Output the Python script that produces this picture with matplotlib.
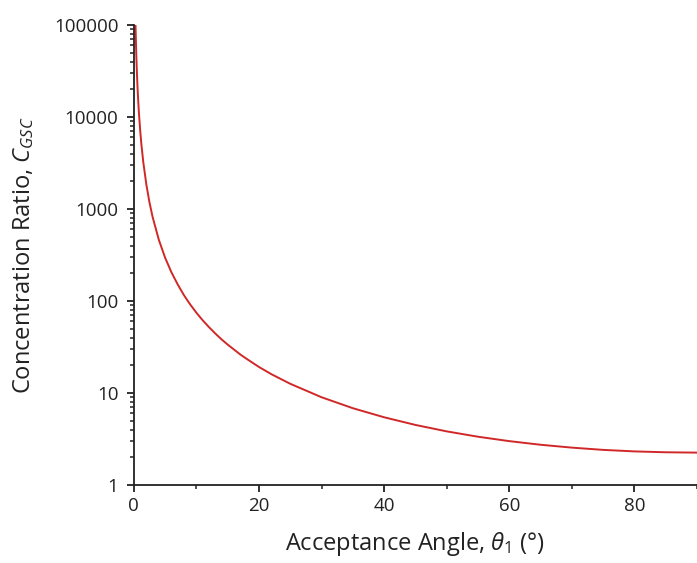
import matplotlib
matplotlib.use('Agg')
import matplotlib.pyplot as plt
from matplotlib.ticker import MultipleLocator, LogLocator, FixedFormatter, NullFormatter

# Werte
winkel = [0.27, 0.3, 0.4, 0.5, 0.6, 0.7, 0.8, 1, 1.2, 1.5, 2, 2.5, 3, 4, 5, 6, 7, 8, 9,
          10, 11, 12, 13, 14, 15, 17, 18, 20, 22, 25, 30, 35, 40, 45, 50, 55, 60, 65, 70,
          75, 80, 85, 90]
ratio = [100000, 82000, 46200, 29500, 20500, 15100, 11500, 7390, 5130, 3280, 1850, 1180,
         821, 462, 296, 206, 152, 116, 92, 74.6, 61.8, 52.1, 44.5, 38.4, 33.6, 26.3, 23.6,
         19.2, 16.0, 12.6, 9.0, 6.84, 5.45, 4.5, 3.83, 3.35, 3.0, 2.74, 2.55, 2.41, 2.32,
         2.27, 2.25]
y_ticks = [1, 10, 100, 1000, 10000, 100000]
y_labels = ['1', '10', '100', '1000', '10000', '100000']

plt.rcParams['font.family'] = ['Open Sans', 'DejaVu Sans']
plt.rcParams['mathtext.fontset'] = 'custom'
plt.rcParams['mathtext.rm'] = 'Open Sans'
plt.rcParams['mathtext.it'] = 'Open Sans:italic'

fig = plt.figure(figsize=(6.97, 5.63), dpi=100)
ax = fig.add_axes([0.192, 0.1385, 0.808, 0.817])

ax.plot(winkel, ratio, color='#d02828', linewidth=1.4)

ax.set_yscale('log')
ax.set_xlim(0, 90)
ax.set_ylim(1, 100000)

ax.set_yticks(y_ticks)
ax.yaxis.set_major_formatter(FixedFormatter(y_labels))
ax.yaxis.set_minor_locator(LogLocator(base=10, subs=range(2, 10), numticks=20))
ax.yaxis.set_minor_formatter(NullFormatter())
ax.xaxis.set_major_locator(MultipleLocator(20))
ax.xaxis.set_minor_locator(MultipleLocator(10))

# nur linke und untere Achse
for s in ['top', 'right']:
    ax.spines[s].set_visible(False)
for s in ['left', 'bottom']:
    ax.spines[s].set_linewidth(1.3)
    ax.spines[s].set_color('#222222')

ax.tick_params(axis='both', which='major', direction='out', length=5, width=1.3,
               labelsize=13.5, colors='#222222')
ax.tick_params(axis='y', which='major', pad=6)
ax.tick_params(axis='both', which='minor', direction='out', length=3, width=1.1,
               colors='#222222')

ax.set_xlabel(r'Acceptance Angle, $\mathit{\theta}_{\mathit{1}}$ (°)', fontsize=17,
              color='#222222', labelpad=11)
ax.set_ylabel(r'Concentration Ratio, $\mathit{C}_{\mathit{GSC}}$', fontsize=17,
              color='#222222', labelpad=13)

fig.savefig('out.png', dpi=100)
